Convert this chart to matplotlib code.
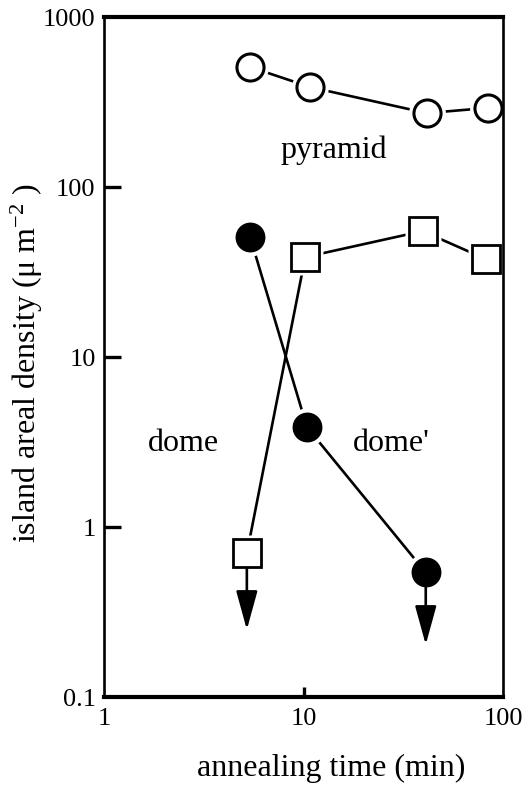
import matplotlib
matplotlib.use("Agg")
import matplotlib.pyplot as plt

plt.rcParams['font.family'] = ['Liberation Serif', 'DejaVu Serif']
plt.rcParams['mathtext.fontset'] = 'custom'
plt.rcParams['mathtext.rm'] = 'Liberation Serif'
plt.rcParams['mathtext.it'] = 'Liberation Serif:italic'

# data (annealing time in min, areal density in um^-2)
pyr_t = [5.4, 10.8, 41.5, 84]
pyr_d = [508, 387, 272, 292]
domep_t = [5.4, 10.4, 41]
domep_d = [50.8, 3.87, 0.54]
dome_t = [5.2, 10.2, 39.5, 82]
dome_d = [0.70, 38.7, 55, 37.7]

# upper-limit points (arrows down)
lim_t = [5.2, 41]
lim_d = [0.70, 0.54]

x_ticks = [1, 10, 100]
x_ticklabels = ['1', '10', '100']
y_ticks = [0.1, 1, 10, 100, 1000]
y_ticklabels = ['0.1', '1', '10', '100', '1000']

fig = plt.figure(figsize=(5.27, 7.85), dpi=100)
ax = fig.add_axes([104/527, 88/785, 399/527, 680/785])
ax.set_xscale('log')
ax.set_yscale('log')
ax.set_xlim(1, 100)
ax.set_ylim(0.1, 1000)

lw = 1.9
gap = 7  # halo size added to markers (points)

def series(t, d, marker, face, ms, mew):
    ax.plot(t, d, '-', color='k', lw=lw, zorder=1, clip_on=False)
    ax.plot(t, d, linestyle='none', marker=marker, ms=ms + gap, mfc='white',
            mec='none', zorder=2, clip_on=False)
    ax.plot(t, d, linestyle='none', marker=marker, ms=ms, mfc=face,
            mec='k', mew=mew, zorder=3, clip_on=False)

series(pyr_t, pyr_d, 'o', 'white', 19.5, 2.2)
series(domep_t, domep_d, 'o', 'black', 20.5, 1.0)
series(dome_t, dome_d, 's', 'white', 19.5, 2.0)

arrow_len = [55, 52]
for t, d, L in zip(lim_t, lim_d, arrow_len):
    ax.annotate('', xy=(t, d), xycoords='data', xytext=(0, -L),
                textcoords='offset points',
                arrowprops=dict(arrowstyle='<|-,head_length=1.2,head_width=0.33',
                                mutation_scale=20, lw=lw, color='k',
                                shrinkA=0, shrinkB=11),
                zorder=4, annotation_clip=False)

ax.text(14.2, 165, 'pyramid', fontsize=23, ha='center', va='center')
ax.text(2.49, 3.1, 'dome', fontsize=23, ha='center', va='center')
ax.text(27.5, 3.1, "dome'", fontsize=23, ha='center', va='center')

ax.set_xticks(x_ticks)
ax.set_xticklabels(x_ticklabels)
ax.set_yticks(y_ticks)
ax.set_yticklabels(y_ticklabels)
ax.minorticks_off()
ax.tick_params(axis='both', labelsize=19, direction='in', width=2.4, color='k')
ax.tick_params(axis='y', length=12, pad=6)
ax.tick_params(axis='x', length=7, pad=8)
# hide end ticks that coincide with the frame
for i, tl in enumerate(ax.yaxis.get_major_ticks()):
    if y_ticks[i] in (0.1, 1000):
        tl.tick1line.set_visible(False)
for i, tl in enumerate(ax.xaxis.get_major_ticks()):
    if x_ticks[i] in (1, 100):
        tl.tick1line.set_visible(False)

ax.spines['top'].set_linewidth(3.0)
ax.spines['bottom'].set_linewidth(3.0)
ax.spines['left'].set_linewidth(1.9)
ax.spines['right'].set_linewidth(1.9)

ax.set_xlabel('annealing time (min)', fontsize=23)
ax.xaxis.set_label_coords((331 - 104) / 399, -(768 - 697) / 680)
ax.set_ylabel('island areal density (\u03bc m$^{-2}$ )', fontsize=23)
ax.yaxis.set_label_coords(-(104 - 27) / 399, (785 - 363 - 88) / 680)
ax.xaxis.label.set_va('center')
ax.yaxis.label.set_va('center')

fig.savefig('out.png', dpi=100)
